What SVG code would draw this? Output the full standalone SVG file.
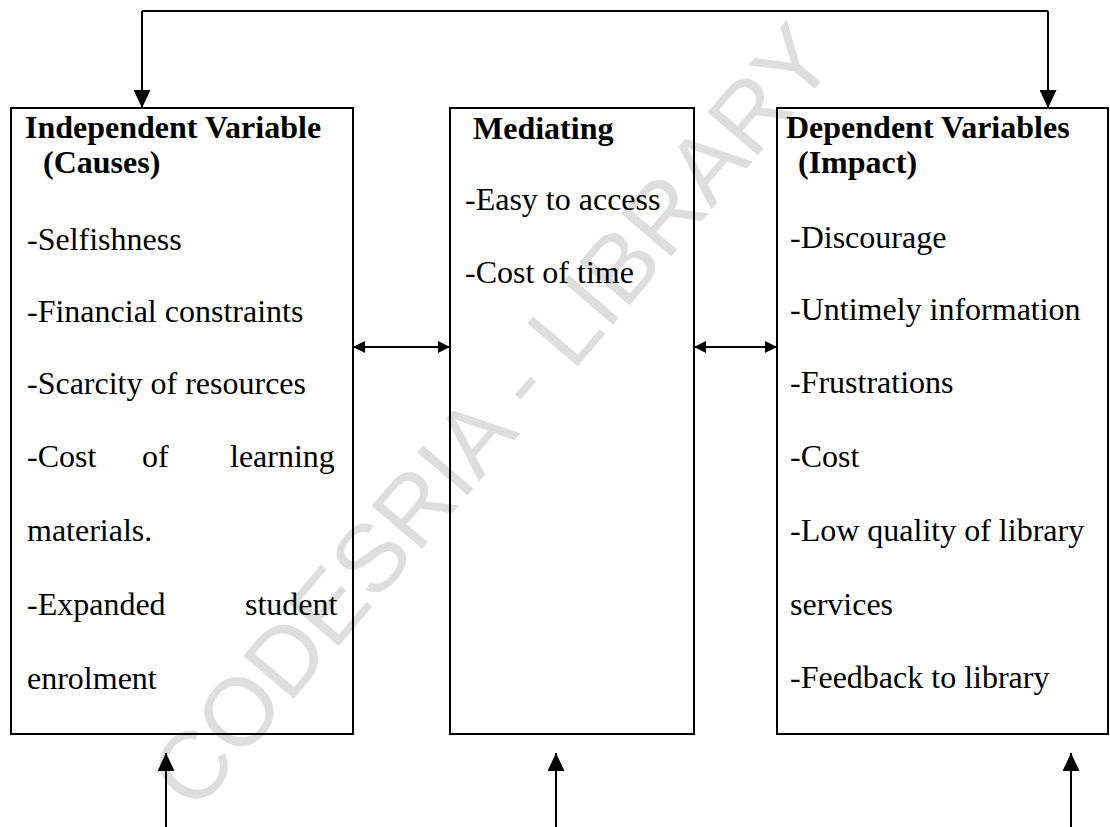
<svg xmlns="http://www.w3.org/2000/svg" width="1110" height="827" viewBox="0 0 1110 827">
<style>
.box{fill:none;stroke:#000;stroke-width:2}
.ln{fill:none;stroke:#000;stroke-width:2}
.t{font-family:"Liberation Serif","Times New Roman",serif;font-size:32px;fill:#000}
.b{font-weight:bold}
.wm{font-family:"Liberation Sans",Arial,sans-serif;font-size:96px;fill:#dedede}
</style>
<defs>
<marker id="ah" markerUnits="userSpaceOnUse" markerWidth="18" markerHeight="17" refX="18" refY="8.5" orient="auto"><path d="M0,0 L18,8.5 L0,17 z" fill="#000"/></marker>
<marker id="sh" markerUnits="userSpaceOnUse" markerWidth="12" markerHeight="12" refX="12" refY="6" orient="auto-start-reverse"><path d="M0,0 L12,6 L0,12 z" fill="#000"/></marker>
</defs>
<rect width="1110" height="827" fill="#fff"/>
<text class="wm" x="490" y="450" text-anchor="middle" transform="rotate(-49.5 490 415)">CODESRIA - LIBRARY</text>
<g id="connectors">
<path class="ln" d="M142,11 H1048"/>
<path class="ln" d="M142,11 V108" marker-end="url(#ah)"/>
<path class="ln" d="M1048,11 V108" marker-end="url(#ah)"/>
<path class="ln" d="M353,347 H450" marker-start="url(#sh)" marker-end="url(#sh)"/>
<path class="ln" d="M694,347 H777" marker-start="url(#sh)" marker-end="url(#sh)"/>
<path class="ln" d="M166,827 V753" marker-end="url(#ah)"/>
<path class="ln" d="M556,827 V753" marker-end="url(#ah)"/>
<path class="ln" d="M1071,827 V753" marker-end="url(#ah)"/>
</g>
<g id="independent">
<rect class="box" x="11" y="108" width="342" height="626"/>
<text class="t b" x="25" y="138">Independent Variable</text>
<text class="t b" x="43" y="173">(Causes)</text>
<text class="t" x="27" y="250">-Selfishness</text>
<text class="t" x="27" y="322">-Financial constraints</text>
<text class="t" x="27" y="394">-Scarcity of resources</text>
<text class="t" y="467"><tspan x="27">-Cost</tspan><tspan x="142">of</tspan><tspan x="230">learning</tspan></text>
<text class="t" x="27" y="541">materials.</text>
<text class="t" y="615"><tspan x="27">-Expanded</tspan><tspan x="245">student</tspan></text>
<text class="t" x="27" y="689">enrolment</text>
</g>
<g id="mediating">
<rect class="box" x="450" y="108" width="244" height="626"/>
<text class="t b" x="473" y="139">Mediating</text>
<text class="t" x="465" y="210">-Easy to access</text>
<text class="t" x="465" y="283">-Cost of time</text>
</g>
<g id="dependent">
<rect class="box" x="777" y="108" width="331" height="626"/>
<text class="t b" x="786" y="138">Dependent Variables</text>
<text class="t b" x="798" y="173">(Impact)</text>
<text class="t" x="790" y="248">-Discourage</text>
<text class="t" x="790" y="320">-Untimely information</text>
<text class="t" x="790" y="393">-Frustrations</text>
<text class="t" x="790" y="467">-Cost</text>
<text class="t" x="790" y="541">-Low quality of library</text>
<text class="t" x="790" y="615">services</text>
<text class="t" x="790" y="688">-Feedback to library</text>
</g>
</svg>
